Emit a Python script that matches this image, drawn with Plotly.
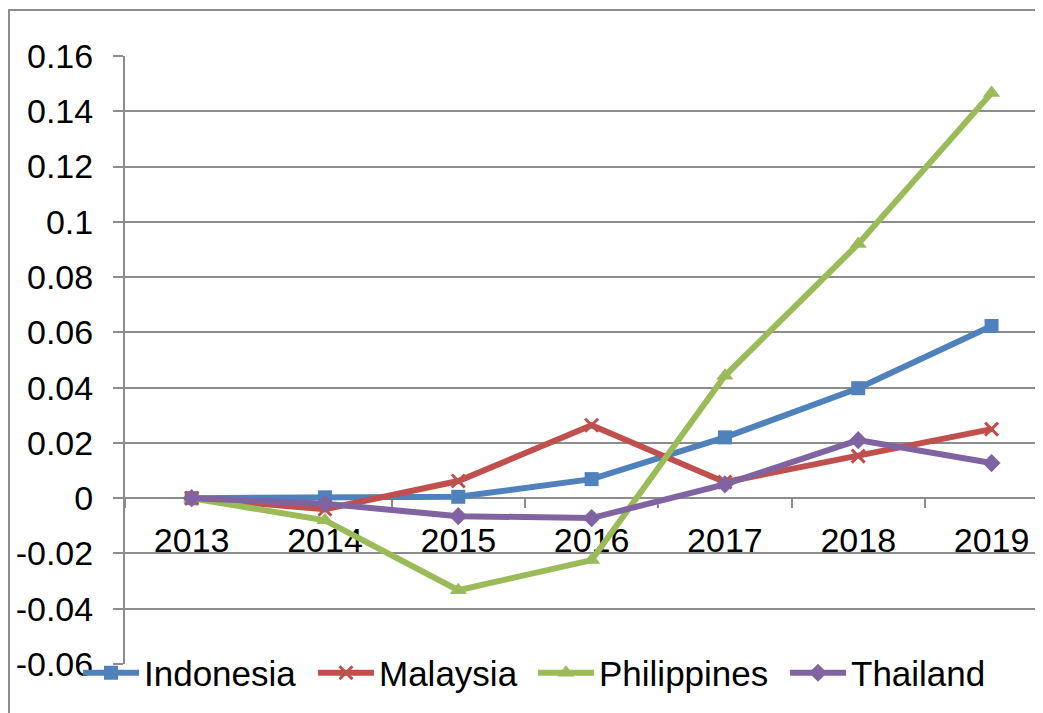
import plotly.graph_objects as go

years = ["2013", "2014", "2015", "2016", "2017", "2018", "2019"]
indonesia = [0.0, 0.0003, 0.0005, 0.0069, 0.0220, 0.0398, 0.0623]
malaysia = [0.0, -0.0040, 0.0062, 0.0264, 0.0058, 0.0152, 0.0250]
philippines = [0.0, -0.0080, -0.0333, -0.0224, 0.0443, 0.0920, 0.1466]
thailand = [0.0, -0.0020, -0.0065, -0.0072, 0.0050, 0.0210, 0.0127]

y_ticks = [-0.06, -0.04, -0.02, 0, 0.02, 0.04, 0.06, 0.08, 0.1, 0.12, 0.14, 0.16]
y_tick_text = ["-0.06", "-0.04", "-0.02", "0", "0.02", "0.04", "0.06", "0.08", "0.1", "0.12", "0.14", "0.16"]

# name, values, colour, marker, marker size, legend id, legend text start (page px)
series = [
    ("Indonesia", indonesia, "#4F81BD", "square", 14, "legend", 145),
    ("Malaysia", malaysia, "#C0504D", "x-thin", 13, "legend2", 380),
    ("Philippines", philippines, "#9BBB59", "triangle-up", 15, "legend3", 600),
    ("Thailand", thailand, "#8064A2", "diamond", 14, "legend4", 852),
]

OFF = 8  # default page body margin
W, H = 1043 - OFF, 713 - OFF
ML, MR, MT, MB = 125 - OFF, 0, 56 - OFF, 49.25
FONT = "Liberation Sans, Arial, sans-serif"
ITEMW = 56

fig = go.Figure()
for name, vals, col, sym, sz, lg, _ in series:
    fig.add_trace(go.Scatter(
        x=years, y=vals, name=name, mode="lines+markers", legend=lg,
        line=dict(color=col, width=6),
        marker=dict(symbol=sym, size=sz, color=col,
                    line=dict(color=col, width=3 if sym == "x-thin" else 0)),
    ))

ymin, ymax = -0.06, 0.16
zero_pos = (0 - ymin) / (ymax - ymin)

legends = {}
for name, vals, col, sym, sz, lg, tx in series:
    legends[lg] = dict(
        orientation="h", xref="container", yref="container",
        x=(tx - ITEMW - 11 - OFF) / W, y=1 - (673 - OFF) / H,
        xanchor="left", yanchor="middle",
        font=dict(size=35, family=FONT, color="black"),
        bgcolor="rgba(0,0,0,0)", itemwidth=ITEMW,
    )

fig.update_layout(
    width=W, height=H,
    margin=dict(l=ML, r=MR, t=MT, b=MB, autoexpand=False),
    paper_bgcolor="white", plot_bgcolor="white",
    font=dict(family=FONT, size=34, color="black"),
    showlegend=True,
    xaxis=dict(
        type="category", range=[-0.5, 6.386],
        anchor="free", position=zero_pos,
        showline=True, linecolor="#8c8c8c", linewidth=2,
        ticks="outside", tickson="boundaries", ticklen=9,
        tickcolor="#8c8c8c", tickwidth=2,
        showgrid=False, zeroline=False,
        tickfont=dict(size=34, family=FONT, color="black"),
        ticklabelstandoff=12,
        layer="below traces",
    ),
    yaxis=dict(
        range=[ymin, ymax], tickvals=y_ticks, ticktext=y_tick_text,
        showline=True, linecolor="#8c8c8c", linewidth=2,
        ticks="outside", ticklen=10, tickcolor="#8c8c8c", tickwidth=2,
        showgrid=True, gridcolor="#8c8c8c", gridwidth=2,
        zeroline=False,
        tickfont=dict(size=34, family=FONT, color="black"),
        ticklabelstandoff=13,
        layer="below traces",
    ),
    **legends,
)

pw, ph = W - ML - MR, H - MT - MB
fig.add_shape(type="rect", xref="paper", yref="paper",
              x0=(9 - OFF - ML) / pw, x1=(W + 20 - ML) / pw,
              y0=-(MB + 20) / ph, y1=1 + (MT - (10 - OFF)) / ph,
              line=dict(color="#8c8c8c", width=2), fillcolor="rgba(0,0,0,0)",
              layer="below")

fig.write_html("out.html")
